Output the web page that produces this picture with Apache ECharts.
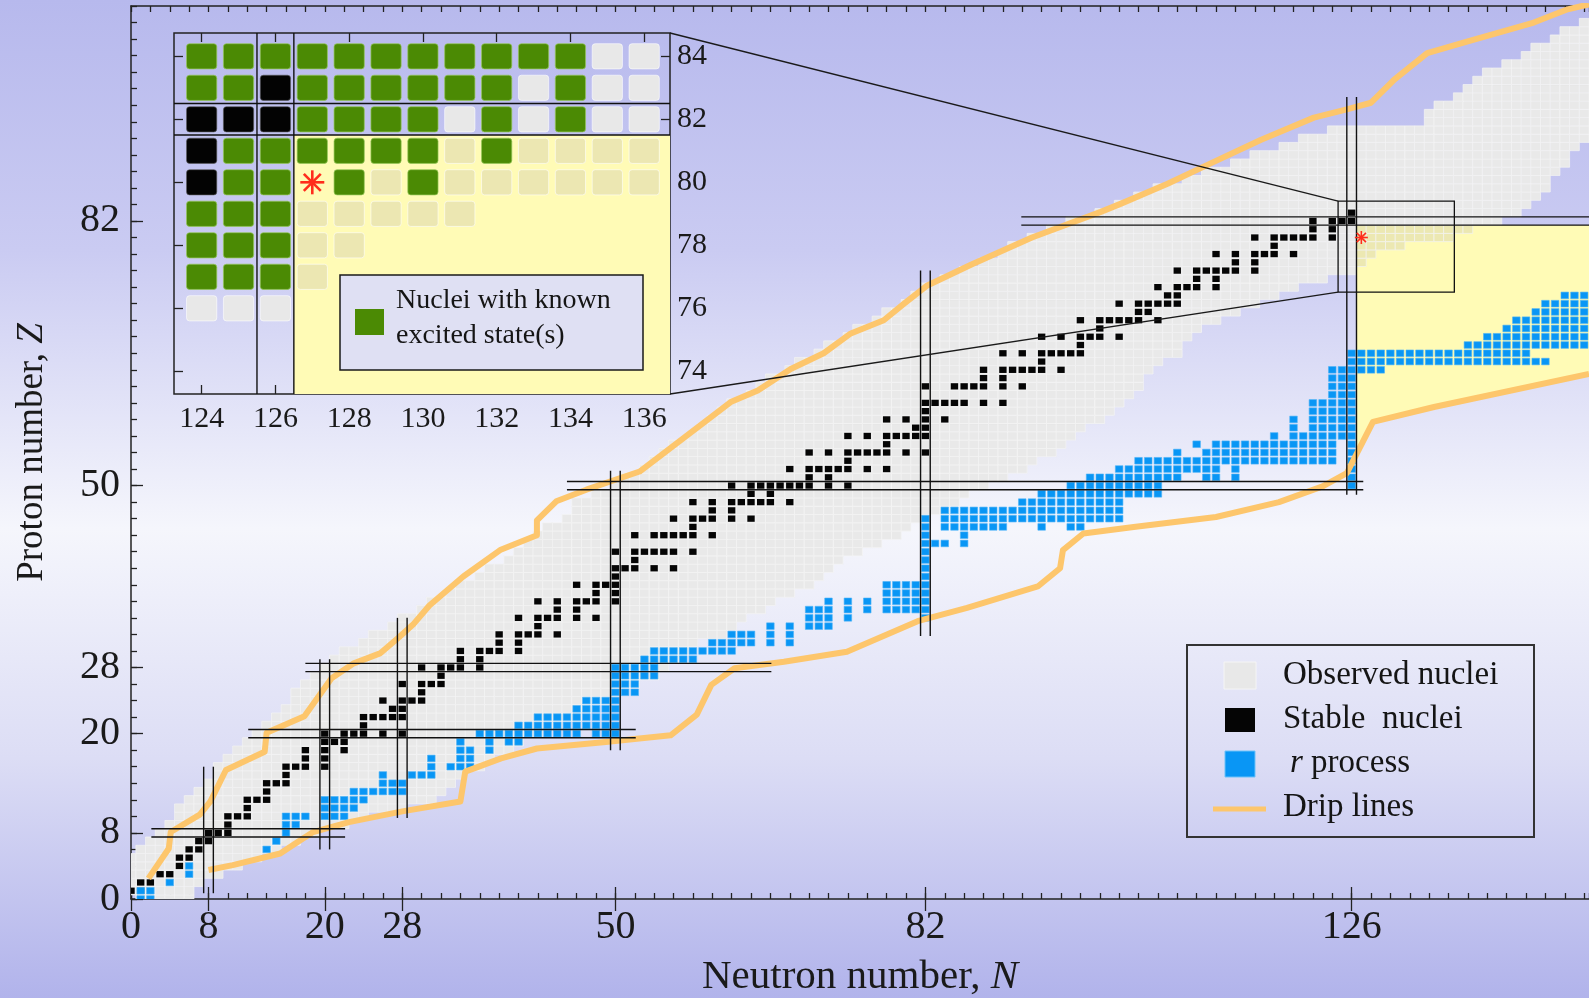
<!DOCTYPE html>
<html>
<head>
<meta charset="utf-8">
<title>Chart of nuclides</title>
<script src="https://cdn.jsdelivr.net/npm/echarts@6/dist/echarts.min.js"></script>
<style>
  html, body { margin: 0; padding: 0; overflow: hidden; }
  #chart {
    width: 1589px;
    height: 998px;
    background: linear-gradient(to bottom, #b7b9ed 0%, #cacbf2 25%, #f5f6fc 53%, #dcddf5 76%, #b1b3eb 100%);
  }
</style>
</head>
<body>
<div id="chart"></div>
<script>
// magic numbers used for labels and long ticks
const magicN = [0, 8, 20, 28, 50, 82, 126];
const magicZ = [0, 8, 20, 28, 50, 82];

// observed nuclei: [Z, first N, last N]
const observedRows = [
  [0, 1, 6], [1, 0, 6], [2, 0, 7], [3, 0, 9], [4, 0, 11], [5, 0, 13], [6, 1, 15], [7, 2, 17],
  [8, 3, 19], [9, 4, 22], [10, 5, 24], [11, 5, 28], [12, 6, 31], [13, 7, 32], [14, 8, 33],
  [15, 9, 34], [16, 9, 36], [17, 10, 37], [18, 11, 39], [19, 12, 40], [20, 13, 42], [21, 14, 44],
  [22, 15, 46], [23, 16, 47], [24, 17, 49], [25, 17, 50], [26, 18, 52], [27, 19, 54], [28, 20, 55],
  [29, 21, 56], [30, 22, 57], [31, 24, 58], [32, 25, 61], [33, 27, 62], [34, 28, 63], [35, 30, 65],
  [36, 31, 66], [37, 33, 68], [38, 34, 70], [39, 36, 71], [40, 37, 72], [41, 39, 73], [42, 40, 75],
  [43, 41, 77], [44, 42, 79], [45, 43, 80], [46, 45, 82], [47, 46, 84], [48, 46, 85], [49, 48, 86],
  [50, 50, 88], [51, 51, 90], [52, 53, 92], [53, 54, 93], [54, 55, 95], [55, 56, 96], [56, 58, 97],
  [57, 59, 98], [58, 60, 100], [59, 61, 101], [60, 62, 102], [61, 64, 103], [62, 65, 104], [63, 66, 104],
  [64, 68, 105], [65, 69, 106], [66, 71, 108], [67, 72, 108], [68, 74, 109], [69, 75, 110], [70, 77, 112],
  [71, 78, 114], [72, 80, 116], [73, 81, 118], [74, 82, 120], [75, 84, 123], [76, 86, 126], [77, 88, 127],
  [78, 90, 128], [79, 91, 131], [80, 93, 136], [81, 95, 138], [82, 97, 141], [83, 100, 143], [84, 102, 144],
  [85, 104, 145], [86, 106, 146], [87, 109, 146], [88, 111, 147], [89, 114, 148], [90, 116, 148],
  [91, 119, 149], [92, 121, 150], [93, 124, 150], [94, 134, 150], [95, 134, 150], [96, 135, 150],
  [97, 137, 150], [98, 138, 150], [99, 139, 150], [100, 140, 150], [101, 142, 150], [102, 144, 150],
  [103, 145, 150], [104, 147, 150], [105, 148, 150], [106, 150, 150]
];

// stable nuclei: [Z, list of N]
const stableByZ = [
  [1, [0, 1]], [2, [1, 2]], [3, [3, 4]], [4, [5]], [5, [5, 6]], [6, [6, 7]], [7, [7, 8]],
  [8, [8, 9, 10]], [9, [10]], [10, [10, 11, 12]], [11, [12]], [12, [12, 13, 14]], [13, [14]],
  [14, [14, 15, 16]], [15, [16]], [16, [16, 17, 18, 20]], [17, [18, 20]], [18, [18, 20, 22]],
  [19, [20, 21, 22]], [20, [20, 22, 23, 24, 26, 28]], [21, [24]], [22, [24, 25, 26, 27, 28]],
  [23, [27, 28]], [24, [26, 28, 29, 30]], [25, [30]], [26, [28, 30, 31, 32]], [27, [32]],
  [28, [30, 32, 33, 34, 36]], [29, [34, 36]], [30, [34, 36, 37, 38, 40]], [31, [38, 40]],
  [32, [38, 40, 41, 42, 44]], [33, [42]], [34, [40, 42, 43, 44, 46, 48]], [35, [44, 46]],
  [36, [42, 44, 46, 47, 48, 50]], [37, [48, 50]], [38, [46, 48, 49, 50]], [39, [50]],
  [40, [50, 51, 52, 54, 56]], [41, [52]], [42, [50, 52, 53, 54, 55, 56, 58]],
  [44, [52, 54, 55, 56, 57, 58, 60]], [45, [58]], [46, [56, 58, 59, 60, 62, 64]], [47, [60, 62]],
  [48, [58, 60, 62, 63, 64, 65, 66, 68]], [49, [64, 66]], [50, [62, 64, 65, 66, 67, 68, 69, 70, 72, 74]],
  [51, [70, 72]], [52, [68, 70, 71, 72, 73, 74, 76, 78]], [53, [74]],
  [54, [70, 72, 74, 75, 76, 77, 78, 80, 82]], [55, [78]], [56, [74, 76, 78, 79, 80, 81, 82]],
  [57, [81, 82]], [58, [78, 80, 82, 84]], [59, [82]], [60, [82, 83, 84, 85, 86, 88, 90]],
  [62, [82, 85, 86, 87, 88, 90, 92]], [63, [88, 90]], [64, [88, 90, 91, 92, 93, 94, 96]], [65, [94]],
  [66, [90, 92, 94, 95, 96, 97, 98]], [67, [98]], [68, [94, 96, 98, 99, 100, 102]], [69, [100]],
  [70, [98, 100, 101, 102, 103, 104, 106]], [71, [104, 105]], [72, [102, 104, 105, 106, 107, 108]],
  [73, [107, 108]], [74, [106, 108, 109, 110, 112]], [75, [110, 112]],
  [76, [108, 110, 111, 112, 113, 114, 116]], [77, [114, 116]], [78, [112, 114, 116, 117, 118, 120]],
  [79, [118]], [80, [116, 118, 119, 120, 121, 122, 124]], [81, [122, 124]], [82, [122, 124, 125, 126]],
  [83, [126]]
];

// r-process path: [Z, first N, last N]
const rProcessRows = [
  [0, 1, 2], [1, 1, 2], [2, 4, 4], [3, 6, 6], [4, 6, 6], [6, 14, 14], [7, 15, 15], [8, 16, 16],
  [9, 16, 17], [10, 16, 18], [10, 20, 22], [11, 20, 23], [12, 20, 24], [13, 23, 28], [14, 26, 28],
  [15, 26, 26], [15, 29, 31], [16, 31, 31], [16, 33, 35], [17, 31, 31], [17, 34, 35], [18, 34, 35],
  [18, 37, 37], [19, 34, 34], [19, 37, 37], [19, 39, 40], [20, 36, 46], [20, 48, 50], [21, 40, 50],
  [22, 42, 50], [23, 46, 50], [24, 47, 50], [25, 50, 52], [26, 50, 52], [27, 50, 54], [28, 50, 54],
  [29, 53, 58], [30, 54, 62], [31, 60, 64], [31, 66, 66], [31, 68, 68], [32, 62, 64], [32, 66, 66],
  [32, 68, 68], [33, 66, 66], [33, 68, 68], [33, 70, 72], [34, 70, 72], [34, 74, 74], [34, 82, 82],
  [35, 70, 72], [35, 74, 74], [35, 76, 76], [35, 78, 82], [36, 72, 72], [36, 74, 74], [36, 76, 76],
  [36, 78, 82], [37, 78, 82], [38, 78, 82], [39, 82, 82], [40, 82, 82], [41, 82, 82], [42, 82, 82],
  [43, 82, 84], [43, 86, 86], [44, 82, 82], [44, 86, 86], [45, 82, 82], [45, 84, 90], [45, 94, 94],
  [45, 97, 98], [46, 82, 82], [46, 84, 102], [47, 84, 102], [48, 92, 102], [49, 94, 106],
  [50, 97, 106], [50, 126, 126], [51, 99, 108], [51, 111, 112], [51, 114, 114], [51, 126, 126],
  [52, 102, 112], [52, 114, 114], [52, 126, 126], [53, 104, 124], [53, 126, 126], [54, 108, 108],
  [54, 111, 124], [54, 126, 126], [55, 110, 110], [55, 112, 124], [55, 126, 126], [56, 118, 118],
  [56, 120, 126], [57, 120, 120], [57, 122, 126], [58, 120, 120], [58, 122, 126], [59, 122, 126],
  [60, 122, 126], [61, 124, 126], [62, 124, 126], [63, 124, 126], [64, 124, 129], [65, 126, 146],
  [66, 126, 144], [67, 138, 150], [68, 140, 150], [69, 142, 150], [70, 143, 150], [71, 145, 150],
  [72, 146, 150], [73, 148, 150]
];

// drip lines [N, Z]
const protonDrip = [
  [1.8, 2.5], [3.9, 6.1], [4.1, 8.1], [7.1, 10.2], [8.2, 11.8], [9.8, 15.6], [13.8, 17.8], [14.0, 20.1],
  [17.9, 22.1], [20.7, 26.7], [23.0, 28.5], [25.7, 29.7], [27.6, 31.6], [29.2, 33.3], [30.8, 35.5],
  [34.3, 39.0], [38.1, 42.2], [41.9, 44.0], [41.9, 45.8], [43.9, 48.1], [47.0, 49.5], [52.5, 51.7],
  [57.1, 55.8], [61.9, 60.1], [64.7, 61.5], [68.1, 64.1], [71.5, 66.0], [74.3, 68.4], [77.7, 70.0],
  [79.8, 72.0], [82.2, 74.2], [86.7, 76.7], [93.0, 80.0], [100.1, 83.1], [102.2, 84.1], [107.0, 86.5],
  [111.5, 89.0], [116.6, 91.8], [122.1, 94.5], [125.5, 95.5], [128.0, 96.3], [130.4, 99.1],
  [133.8, 102.3], [137.9, 103.7], [144.8, 106.0], [148.3, 107.6], [150.5, 108.2]
];
const neutronDrip = [
  [8.0, 3.5], [10.5, 4.1], [15.4, 5.5], [17.2, 6.9], [18.8, 8.1], [22.5, 9.3], [28.0, 10.6], [34.0, 11.8],
  [34.5, 15.4], [38.2, 17.0], [41.9, 18.2], [49.0, 19.0], [55.7, 19.8], [58.4, 22.3], [59.9, 25.9],
  [62.3, 27.9], [67.4, 28.7], [73.9, 29.9], [81.2, 33.6], [86.3, 35.2], [93.6, 37.8], [95.9, 40.0],
  [96.2, 42.2], [98.3, 44.2], [103.5, 45.0], [112.0, 46.2], [118.5, 48.0], [123.0, 49.9], [125.5, 51.5],
  [128.2, 57.7], [134.5, 59.5], [150.5, 63.5]
];

// shaded region beyond N=126, below Z=82
const yellowRegion = [[126.5, 81.5], [150.5, 81.5], [150.5, 63.5], [134.5, 59.5], [128.2, 57.7], [126.5, 54.0]];

// magic-number guide lines: column [N, Z from, Z to], row [Z, N from, N to]
const magicColumns = [[8, 0.7, 16], [20, 6, 29], [28, 9.8, 34], [50, 18, 51.8], [82, 31.8, 76], [126, 48.9, 97]];
const magicRows = [[8, 2.1, 22.1], [20, 12.1, 52.1], [28, 18, 66.1], [50, 45, 127.2], [82, 91.9, 151]];

const zoomBox = [124.6, 73.4, 136.6, 84.4];
const marked = [[127, 80]];

// inset
const insetKnown = [
  [84, [124, 125, 126, 127, 128, 129, 130, 131, 132, 133, 134]],
  [83, [124, 125, 127, 128, 129, 130, 131, 132, 134]],
  [82, [127, 128, 129, 130, 132, 134]],
  [81, [125, 126, 127, 128, 129, 130, 132]],
  [80, [125, 126, 128, 130]],
  [79, [124, 125, 126]],
  [78, [124, 125, 126]],
  [77, [124, 125, 126]]
];
const insetStable = [[126, 83], [124, 82], [125, 82], [126, 82], [124, 81], [124, 80]];
const insetObserved = [
  [84, [135, 136]],
  [83, [133, 135, 136]],
  [82, [131, 133, 135, 136]],
  [81, [131, 133, 134, 135, 136]],
  [80, [129, 131, 132, 133, 134, 135, 136]],
  [79, [127, 128, 129, 130, 131]],
  [78, [127, 128]],
  [77, [127]],
  [76, [124, 125, 126]]
];
const insetTicksN = [124, 126, 128, 130, 132, 134, 136];
const insetTicksZ = [74, 76, 78, 80, 82, 84];

// ---- build cell lists
const observedCells = [];
observedRows.forEach(([z, a, b]) => { for (let n = a; n <= b; n++) observedCells.push([n, z]); });
const stableCells = [];
stableByZ.forEach(([z, ns]) => ns.forEach(n => stableCells.push([n, z])));
const rCells = [];
rProcessRows.forEach(([z, a, b]) => { for (let n = a; n <= b; n++) rCells.push([n, z]); });
const insetKnownCells = [];
insetKnown.forEach(([z, ns]) => ns.forEach(n => insetKnownCells.push([n, z])));
const insetObservedCells = [];
insetObserved.forEach(([z, ns]) => ns.forEach(n => insetObservedCells.push([n, z])));

const inYellow = (n, z) => n >= 127 && z <= 81;
const FONT = 'Liberation Serif';

function cellRenderer(w, h, fill, stroke, lw, r) {
  return function (params, api) {
    const n = api.value(0), z = api.value(1);
    const p = api.coord([n - w / 2, z + h / 2]);
    const q = api.coord([n + w / 2, z - h / 2]);
    return {
      type: 'rect',
      shape: { x: p[0], y: p[1], width: q[0] - p[0], height: q[1] - p[1], r: r || 0 },
      style: { fill: typeof fill === 'function' ? fill(n, z) : fill, stroke: stroke, lineWidth: lw }
    };
  };
}

function polygonRenderer(points, fill) {
  return function (params, api) {
    return { type: 'polygon', shape: { points: points.map(p => api.coord(p)) }, style: { fill: fill } };
  };
}

function columnRenderer(params, api) {
  const n = api.value(0), z1 = api.value(1), z2 = api.value(2);
  const kids = [-0.5, 0.5].map(d => {
    const a = api.coord([n + d, z1]), b = api.coord([n + d, z2]);
    return { type: 'line', shape: { x1: a[0], y1: a[1], x2: b[0], y2: b[1] }, style: { stroke: '#111', lineWidth: 1.4 } };
  });
  return { type: 'group', children: kids };
}

function rowRenderer(params, api) {
  const z = api.value(0), n1 = api.value(1), n2 = api.value(2);
  const kids = [-0.5, 0.5].map(d => {
    const a = api.coord([n1, z + d]), b = api.coord([n2, z + d]);
    return { type: 'line', shape: { x1: a[0], y1: a[1], x2: b[0], y2: b[1] }, style: { stroke: '#111', lineWidth: 1.4 } };
  });
  return { type: 'group', children: kids };
}

function asteriskRenderer(size, lw) {
  return function (params, api) {
    const c = api.coord([api.value(0), api.value(1)]);
    const kids = [];
    for (let k = 0; k < 4; k++) {
      const a = k * Math.PI / 4;
      const dx = Math.cos(a) * size / 2, dy = Math.sin(a) * size / 2;
      kids.push({ type: 'line', shape: { x1: c[0] - dx, y1: c[1] - dy, x2: c[0] + dx, y2: c[1] + dy },
        style: { stroke: '#ff2d1c', lineWidth: lw } });
    }
    return { type: 'group', children: kids };
  };
}

function boxRenderer(params, api) {
  const p = api.coord([zoomBox[0], zoomBox[3]]);
  const q = api.coord([zoomBox[2], zoomBox[1]]);
  return { type: 'rect', shape: { x: p[0], y: p[1], width: q[0] - p[0], height: q[1] - p[1] },
    style: { fill: 'none', stroke: '#111', lineWidth: 1.3 } };
}

const tickLine = { color: '#222', width: 1.3 };
const mainX = (pos, extra) => Object.assign({
  type: 'value', gridIndex: 0, position: pos, min: 0, max: 150.5, interval: 2,
  axisLine: { show: true, onZero: false, lineStyle: { color: '#222', width: 1.5 } },
  axisTick: { inside: true, length: 6, lineStyle: tickLine },
  axisLabel: { show: false }, splitLine: { show: false }
}, extra);
const mainY = (extra) => Object.assign({
  type: 'value', gridIndex: 0, position: 'left', min: 0, max: 108, interval: 2,
  axisLine: { show: true, onZero: false, lineStyle: { color: '#222', width: 1.5 } },
  axisTick: { inside: true, length: 6, lineStyle: tickLine },
  axisLabel: { show: false }, splitLine: { show: false }
}, extra);
const magicTicks = (vals) => ({ axisLine: { show: false }, axisTick: { inside: true, length: 12, lineStyle: tickLine, customValues: vals } });

const insetX = (pos, extra) => Object.assign({
  type: 'value', gridIndex: 1, position: pos, min: 123.25, max: 136.7,
  axisLine: { show: false },
  axisTick: { inside: true, length: 9, lineStyle: tickLine, customValues: insetTicksN },
  axisLabel: { show: false }, splitLine: { show: false }
}, extra);
const insetY = (pos, extra) => Object.assign({
  type: 'value', gridIndex: 1, position: pos, min: 73.28, max: 84.74,
  axisLine: { show: false },
  axisTick: { inside: true, length: 9, lineStyle: tickLine, customValues: insetTicksZ },
  axisLabel: { show: false }, splitLine: { show: false }
}, extra);

const chart = echarts.init(document.getElementById('chart'), null, { renderer: 'canvas' });

const option = {
  animation: false,
  backgroundColor: 'transparent',
  grid: [
    { left: 131, top: 6, right: 0, bottom: 99, outerBoundsMode: 'none' },
    { left: 174, top: 33, width: 496, height: 361, outerBoundsMode: 'none',
      show: true, borderColor: '#222', borderWidth: 1.5, backgroundColor: 'transparent' }
  ],
  xAxis: [
    mainX('bottom', {
      axisLabel: {
        show: true, margin: 8, fontSize: 40, fontFamily: FONT, color: '#1a1a1a',
        formatter: v => (magicN.includes(v) ? String(v) : '')
      },
      name: 'Neutron number, {i|N}', nameLocation: 'middle', nameGap: 58,
      nameTextStyle: { fontSize: 41, fontFamily: FONT, color: '#1a1a1a', rich: { i: { fontSize: 41, fontFamily: FONT, fontStyle: 'italic', color: '#1a1a1a' } } }
    }),
    mainX('bottom', magicTicks(magicN)),
    mainX('top', {}),
    mainX('top', magicTicks(magicN)),
    insetX('bottom', {
      axisLabel: { show: true, customValues: insetTicksN, margin: 10, fontSize: 30, fontFamily: FONT, color: '#1a1a1a' }
    }),
    insetX('top', {})
  ],
  yAxis: [
    mainY({
      axisLabel: {
        show: true, margin: 11, fontSize: 40, fontFamily: FONT, color: '#1a1a1a',
        formatter: v => (magicZ.includes(v) ? String(v) : '')
      },
      name: 'Proton number, {i|Z}', nameLocation: 'middle', nameRotate: 90, nameGap: 80,
      nameTextStyle: { fontSize: 37, fontFamily: FONT, color: '#1a1a1a', rich: { i: { fontSize: 37, fontFamily: FONT, fontStyle: 'italic', color: '#1a1a1a' } } }
    }),
    mainY(magicTicks(magicZ)),
    insetY('right', {
      axisLabel: { show: true, customValues: insetTicksZ, margin: 7, fontSize: 30, fontFamily: FONT, color: '#1a1a1a' }
    }),
    insetY('left', {})
  ],
  series: [
    // main chart
    { type: 'custom', name: 'region', xAxisIndex: 0, yAxisIndex: 0, clip: true, z: 1, silent: true,
      renderItem: polygonRenderer(yellowRegion, '#fffbb6'), data: [yellowRegion[0]] },
    { type: 'custom', name: 'Observed nuclei', xAxisIndex: 0, yAxisIndex: 0, clip: true, z: 2, silent: true, progressive: 0,
      renderItem: cellRenderer(1, 1, (n, z) => (inYellow(n, z) ? '#ece8b2' : '#e9e9e9'), '#f3f3f3', 0.7),
      encode: { x: 0, y: 1 }, data: observedCells },
    { type: 'custom', name: 'Stable nuclei', xAxisIndex: 0, yAxisIndex: 0, clip: true, z: 3, silent: true, progressive: 0,
      renderItem: cellRenderer(0.76, 0.76, '#050505', null, 0),
      encode: { x: 0, y: 1 }, data: stableCells },
    { type: 'custom', name: 'r process', xAxisIndex: 0, yAxisIndex: 0, clip: true, z: 3, silent: true, progressive: 0,
      renderItem: cellRenderer(0.78, 0.8, '#0996f5', '#4db3f7', 0.6),
      encode: { x: 0, y: 1 }, data: rCells },
    { type: 'line', name: 'Drip lines', xAxisIndex: 0, yAxisIndex: 0, z: 4, silent: true, showSymbol: false,
      lineStyle: { color: '#fdc66c', width: 6, join: 'round' }, data: protonDrip },
    { type: 'line', name: 'Drip lines', xAxisIndex: 0, yAxisIndex: 0, z: 4, silent: true, showSymbol: false,
      lineStyle: { color: '#fdc66c', width: 6, join: 'round' }, data: neutronDrip },
    { type: 'custom', name: 'magic N', xAxisIndex: 0, yAxisIndex: 0, clip: true, z: 5, silent: true,
      renderItem: columnRenderer, data: magicColumns },
    { type: 'custom', name: 'magic Z', xAxisIndex: 0, yAxisIndex: 0, clip: true, z: 5, silent: true,
      renderItem: rowRenderer, data: magicRows },
    { type: 'custom', name: 'zoom box', xAxisIndex: 0, yAxisIndex: 0, z: 6, silent: true,
      renderItem: boxRenderer, data: [[zoomBox[0], zoomBox[1]]] },
    { type: 'custom', name: 'marked', xAxisIndex: 0, yAxisIndex: 0, z: 6, silent: true,
      renderItem: asteriskRenderer(13, 1.6), data: marked },

    // inset
    { type: 'custom', name: 'inset region', xAxisIndex: 4, yAxisIndex: 2, clip: true, z: 1, silent: true,
      renderItem: polygonRenderer(yellowRegion, '#fffbb6'), data: [yellowRegion[0]] },
    { type: 'custom', name: 'inset observed', xAxisIndex: 4, yAxisIndex: 2, clip: true, z: 2, silent: true,
      renderItem: cellRenderer(0.82, 0.8, (n, z) => (inYellow(n, z) ? '#ece7b2' : '#e8e8e8'), 'rgba(255,255,255,0.6)', 1, 3),
      encode: { x: 0, y: 1 }, data: insetObservedCells },
    { type: 'custom', name: 'inset known', xAxisIndex: 4, yAxisIndex: 2, clip: true, z: 3, silent: true,
      renderItem: cellRenderer(0.82, 0.8, '#4b8a04', 'rgba(150,200,90,0.7)', 1, 3),
      encode: { x: 0, y: 1 }, data: insetKnownCells },
    { type: 'custom', name: 'inset stable', xAxisIndex: 4, yAxisIndex: 2, clip: true, z: 3, silent: true,
      renderItem: cellRenderer(0.82, 0.8, '#030303', 'rgba(90,90,90,0.6)', 1, 3),
      encode: { x: 0, y: 1 }, data: insetStable },
    { type: 'custom', name: 'inset magic N', xAxisIndex: 4, yAxisIndex: 2, clip: true, z: 5, silent: true,
      renderItem: columnRenderer, data: [[126, 70, 90]] },
    { type: 'custom', name: 'inset magic Z', xAxisIndex: 4, yAxisIndex: 2, clip: true, z: 5, silent: true,
      renderItem: rowRenderer, data: [[82, 120, 140]] },
    { type: 'custom', name: 'inset marked', xAxisIndex: 4, yAxisIndex: 2, clip: true, z: 6, silent: true,
      renderItem: asteriskRenderer(24, 2.6), data: marked }
  ]
};

chart.setOption(option);

// legends and the connectors between the inset and its box
const txt = (x, y, text, size, extra) => ({
  type: 'text', x: x, y: y, z: 60,
  style: Object.assign({ text: text, font: size + 'px "' + FONT + '"', fill: '#151515', verticalAlign: 'middle', align: 'left' }, extra || {})
});

const insetTR = chart.convertToPixel({ xAxisIndex: 4, yAxisIndex: 2 }, [136.7, 84.74]);
const insetBR = chart.convertToPixel({ xAxisIndex: 4, yAxisIndex: 2 }, [136.7, 73.28]);
const boxTL = chart.convertToPixel({ xAxisIndex: 0, yAxisIndex: 0 }, [zoomBox[0], zoomBox[3]]);
const boxBL = chart.convertToPixel({ xAxisIndex: 0, yAxisIndex: 0 }, [zoomBox[0], zoomBox[1]]);

chart.setOption({
  graphic: [
    { type: 'line', z: 55, shape: { x1: insetTR[0], y1: insetTR[1], x2: boxTL[0], y2: boxTL[1] }, style: { stroke: '#1a1a1a', lineWidth: 1.3 } },
    { type: 'line', z: 55, shape: { x1: insetBR[0], y1: insetBR[1], x2: boxBL[0], y2: boxBL[1] }, style: { stroke: '#1a1a1a', lineWidth: 1.3 } },

    // inset legend
    { type: 'rect', z: 58, shape: { x: 340, y: 275, width: 303, height: 95 }, style: { fill: '#dfe0f3', stroke: '#1a1a1a', lineWidth: 1.5 } },
    { type: 'rect', z: 59, shape: { x: 355, y: 309, width: 29, height: 26 }, style: { fill: '#4b8a04' } },
    txt(396, 301, 'Nuclei with known', 28),
    txt(396, 336, 'excited state(s)', 28),

    // main legend
    { type: 'rect', z: 58, shape: { x: 1187, y: 645, width: 347, height: 192 }, style: { fill: 'none', stroke: '#333', lineWidth: 2 } },
    { type: 'rect', z: 59, shape: { x: 1224, y: 662, width: 32, height: 27 }, style: { fill: '#e8e8e8', stroke: '#f5f5f5', lineWidth: 1 } },
    { type: 'rect', z: 59, shape: { x: 1225, y: 708, width: 30, height: 24 }, style: { fill: '#050505' } },
    { type: 'rect', z: 59, shape: { x: 1225, y: 751, width: 30, height: 26 }, style: { fill: '#0996f5', stroke: '#6cc2fa', lineWidth: 1 } },
    { type: 'line', z: 59, shape: { x1: 1213, y1: 809, x2: 1266, y2: 809 }, style: { stroke: '#fdc66c', lineWidth: 5 } },
    txt(1283, 675, 'Observed nuclei', 33),
    txt(1283, 719, 'Stable  nuclei', 33),
    txt(1290, 763, '{i|r} process', 33, { rich: { i: { font: 'italic 33px "' + FONT + '"', fill: '#151515' } } }),
    txt(1283, 807, 'Drip lines', 33)
  ]
});
</script>
</body>
</html>
